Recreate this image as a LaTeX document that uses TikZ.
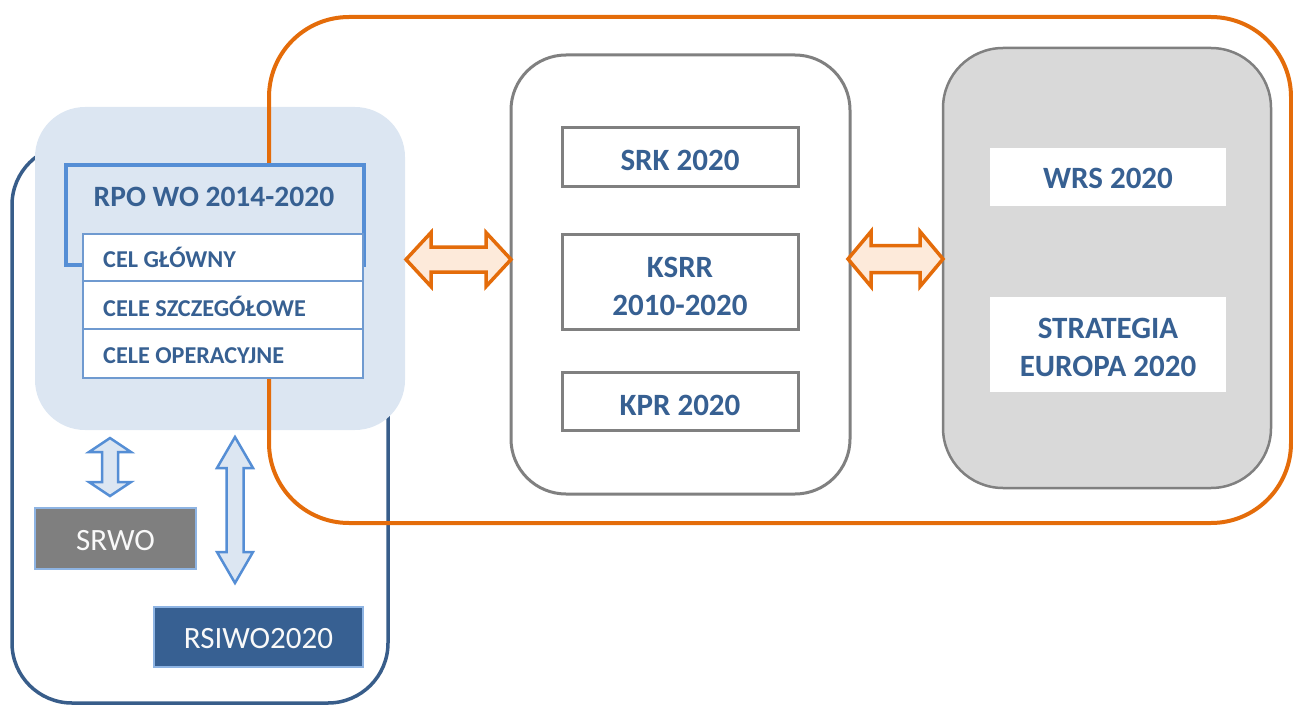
\documentclass[tikz,border=0pt]{standalone}
\usepackage{fontspec}
\setmainfont{Carlito}
\definecolor{txtblue}{HTML}{376092}
\definecolor{framebl}{HTML}{385D8A}
\definecolor{lightbl}{HTML}{DCE6F2}
\definecolor{midbl}{HTML}{558ED5}
\definecolor{rowbl}{HTML}{6F9AD0}
\definecolor{orng}{HTML}{E46C0A}
\definecolor{peach}{HTML}{FDEADA}
\definecolor{grayln}{HTML}{808080}
\definecolor{grayfill}{HTML}{D9D9D9}
\definecolor{srwofill}{HTML}{7F7F7F}
\definecolor{paleblue}{HTML}{8EB4E3}
\newcommand\hblk[7]{\draw[#1] (#2,#4) -- (#2+#7,#4-#5) -- (#2+#7,#4-#6) -- (#3-#7,#4-#6) -- (#3-#7,#4-#5) -- (#3,#4) -- (#3-#7,#4+#5) -- (#3-#7,#4+#6) -- (#2+#7,#4+#6) -- (#2+#7,#4+#5) -- cycle;}
\newcommand\vblk[7]{\draw[#1] (#4,#2) -- (#4-#5,#2+#7) -- (#4-#6,#2+#7) -- (#4-#6,#3-#7) -- (#4-#5,#3-#7) -- (#4,#3) -- (#4+#5,#3-#7) -- (#4+#6,#3-#7) -- (#4+#6,#2+#7) -- (#4+#5,#2+#7) -- cycle;}
\tikzset{
  x=1pt, y=-1pt,
  box/.style={rectangle, inner sep=0pt},
  titletxt/.style={anchor=base, inner sep=0pt, font=\fontsize{31}{37}\selectfont\bfseries, text=txtblue},
  rowtxt/.style={anchor=base west, inner sep=0pt, font=\fontsize{24.2}{29}\selectfont\bfseries, text=txtblue},
  lighttxt/.style={anchor=base, inner sep=0pt, font=\fontsize{31}{37}\selectfont, text=white!95!gray},
  innerbox/.style={box, draw=grayln, line width=3pt, fill=white, minimum width=236pt},
  whitebox/.style={box, fill=white, minimum width=236pt},
  rowbox/.style={box, draw=rowbl, line width=1.5pt, fill=white, minimum width=280pt},
  oarrow/.style={draw=orng, line width=3.5pt, fill=peach, line join=miter},
  barrow/.style={draw=midbl, line width=2.5pt, fill=lightbl, line join=miter},
}
\begin{document}
\begin{tikzpicture}
\useasboundingbox (0,0) rectangle (1293,706);
% left dark blue frame
\node[box, draw=framebl, line width=3.5pt, rounded corners=60pt, minimum width=376pt, minimum height=558pt] (lframe) at (200,424) {};
% light blue panel
\node[box, fill=lightbl, rounded corners=50pt, minimum width=370pt, minimum height=323pt] (lightbox) at (220,268.5) {};
% orange frame
\node[box, draw=orng, line width=4pt, rounded corners=80pt, minimum width=1022pt, minimum height=506pt] (oframe) at (780,270) {};
% RPO box
\node[box, draw=midbl, line width=3.5pt, fill=lightbl, minimum width=298pt, minimum height=100pt] (rpo) at (215,215) {};
\node[titletxt, font=\fontsize{29.5}{35}\selectfont\bfseries] (rpotxt) at (214,206) {RPO WO 2014-2020};
% table rows
\node[rowbox, minimum height=47pt] (row1) at (223,257.5) {};
\node[rowbox, minimum height=48pt] (row2) at (223,305) {};
\node[rowbox, minimum height=49pt] (row3) at (223,353.5) {};
\node[rowtxt] (row1txt) at (103,267) {CEL GŁÓWNY};
\node[rowtxt] (row2txt) at (103,316) {CELE SZCZEGÓŁOWE};
\node[rowtxt] (row3txt) at (103,363) {CELE OPERACYJNE};
% middle box
\node[box, draw=grayln, line width=3pt, fill=white, rounded corners=55pt, minimum width=339pt, minimum height=439pt] (midbox) at (680.5,274.5) {};
\node[innerbox, minimum height=58pt] (srk) at (680,157) {};
\node[innerbox, minimum height=95pt] (ksrr) at (680,281.5) {};
\node[innerbox, minimum height=58pt] (kpr) at (680,401) {};
\node[titletxt] (srktxt) at (680,170) {SRK 2020};
\node[titletxt] (ksrrtxtA) at (680,277) {KSRR};
\node[titletxt] (ksrrtxtB) at (680,315) {2010-2020};
\node[titletxt] (kprtxt) at (680,415) {KPR 2020};
% right box
\node[box, draw=grayln, line width=2.5pt, fill=grayfill, rounded corners=60pt, minimum width=328pt, minimum height=440pt] (rbox) at (1107,268) {};
\node[whitebox, minimum height=58pt] (wrs) at (1108,177) {};
\node[whitebox, minimum height=95pt] (strat) at (1108,344.5) {};
\node[titletxt] (wrstxt) at (1108,188) {WRS 2020};
\node[titletxt] (strattxtA) at (1108,338) {STRATEGIA};
\node[titletxt] (strattxtB) at (1108,376) {EUROPA 2020};
% SRWO and RSIWO2020
\node[box, fill=srwofill, draw=paleblue, line width=1.2pt, minimum width=161pt, minimum height=61pt] (srwo) at (115.5,538.5) {};
\node[lighttxt] (srwotxt) at (115.5,550) {SRWO};
\node[box, fill=txtblue, draw=paleblue, line width=1.2pt, minimum width=209pt, minimum height=60pt] (rsiwo) at (258.5,637) {};
\node[lighttxt] (rsiwotxt) at (258.5,648) {RSIWO2020};
% orange double arrows
\hblk{oarrow}{406}{511}{259.5}{27}{12.5}{25}
\hblk{oarrow}{848}{943}{259}{27.5}{13.5}{23}
% blue double arrows
\vblk{barrow}{438}{496}{110}{21}{8}{14}
\vblk{barrow}{437}{583}{235}{18}{8.5}{31}
\end{tikzpicture}
\end{document}
